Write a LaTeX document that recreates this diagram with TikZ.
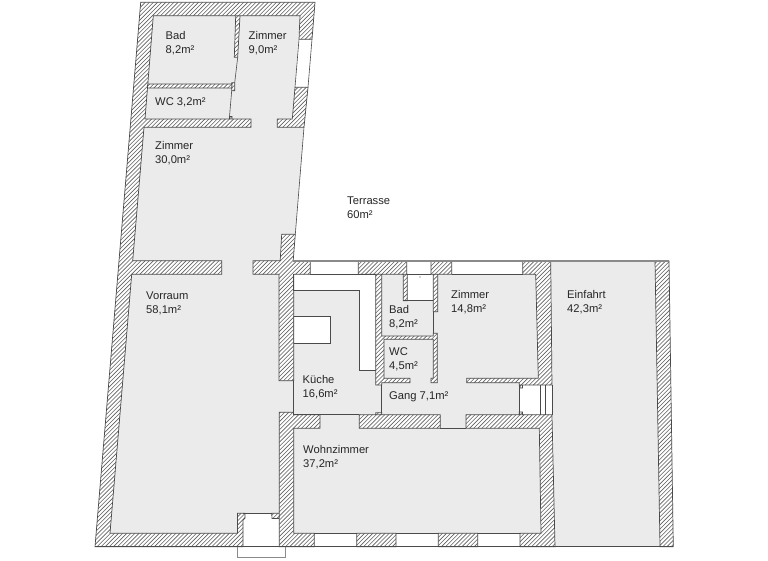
\documentclass[tikz,border=0pt]{standalone}
\usepackage{fontspec}
\setmainfont{Liberation Sans}
\definecolor{roomgray}{HTML}{EBEBEB}
\definecolor{wallline}{HTML}{4A4A4A}
\definecolor{hatchline}{HTML}{5F5F5F}
\definecolor{thickline}{HTML}{8A8A8A}
\tikzset{
  room/.style={fill=roomgray,draw=none},
  wall outline/.style={draw=wallline,line width=.7pt},
  hatch/.style={draw=hatchline,line width=.6pt},
  edge line/.style={draw=wallline,line width=.6pt},
  top line/.style={draw=thickline,line width=1.3pt},
  roomlabel/.style={anchor=west,inner sep=0pt,align=left,text=black!85,
    font=\fontsize{11.2}{14}\selectfont}
}
\newcommand\allwalls{
(140.7,2.3)--(315,2.3)--(312,39.3)--(299,39.3)--(300,15.7)--(153.3,15.7)--(145,119)--(251,119)--(251,127.3)--(144,127.3)--(132.7,260.7)--(221.7,260.7)--(221.7,274.3)--(131.7,274.3)--(110,533.3)--(237.5,533.3)--(237.5,513.3)--(245,513.3)--(245,518)--(243,520)--(243,546.7)--(95,546.7)--cycle
(295,87.3)--(308,87.3)--(304,127.3)--(277.3,127.3)--(277.3,119)--(292.3,119)--cycle
(281.7,234.3)--(295.3,234.3)--(293.2,260.7)--(310.3,260.7)--(310.3,274.3)--(293.7,274.3)--(293.7,380.7)--(279,380.7)--(279,274.3)--(253,274.3)--(253,260.7)--(280.2,260.7)--cycle
(279.3,412.3)--(293.5,412.3)--(293.5,414.7)--(320,414.7)--(320,428.3)--(293.7,428.3)--(293.7,533.3)--(314.3,533.3)--(314.3,546.7)--(279.3,546.7)--cycle
(271.7,513.3)--(279.3,513.3)--(279.3,518.5)--(272,518.5)--cycle
(359.3,414.7)--(440.3,414.7)--(440.3,428.3)--(359.3,428.3)--cycle
(522.7,261)--(550.7,261)--(552,385)--(519.3,385)--(519.3,382.7)--(466.7,382.7)--(466.7,378.3)--(538.3,378.3)--(535.7,274.3)--(522.7,274.3)--cycle
(466,414.7)--(552,414.7)--(555,546.7)--(520,546.7)--(520,533.3)--(541,533.3)--(539.3,428.3)--(466,428.3)--cycle
(356.7,533.3)--(396,533.3)--(396,546.7)--(356.7,546.7)--cycle
(438.3,533.3)--(477.7,533.3)--(477.7,546.7)--(438.3,546.7)--cycle
(358.3,261)--(406.7,261)--(406.7,274.3)--(358.3,274.3)--cycle
(431,261)--(451.7,261)--(451.7,274.3)--(431,274.3)--cycle
(655,261)--(669,261)--(673.3,546.7)--(660,546.7)--cycle
(375.7,274.3)--(381.7,274.3)--(381.7,336)--(433.3,336)--(433.3,333.3)--(437.3,333.3)--(437.3,382.7)--(431,382.7)--(431,378.3)--(433.3,378.3)--(433.3,339.3)--(384,339.3)--(384,378.3)--(410,378.3)--(410,382.7)--(381.7,382.7)--(381.7,385)--(375.7,385)--cycle
(403.3,274.3)--(407.3,274.3)--(407.3,300.7)--(403.3,300.7)--cycle
(433.3,274.3)--(437.7,274.3)--(437.7,311.7)--(433.3,311.7)--cycle
(235.7,15.7)--(240,15.7)--(237.7,57.3)--(234.3,57.3)--cycle
(147.7,84)--(232,84)--(232,88)--(147.3,88)--cycle
(231.7,82.7)--(234.7,82.7)--(234.7,90.7)--(231.7,90.7)--cycle
(229.5,116.5)--(232,116.5)--(232,119)--(229.5,119)--cycle
(520,385)--(522.5,385)--(522.5,388)--(520,388)--cycle
(519.3,412)--(522.5,412)--(522.5,414.7)--(519.3,414.7)--cycle
(375.7,412.7)--(381.7,412.7)--(381.7,414.7)--(375.7,414.7)--cycle
}
\begin{document}
\begin{tikzpicture}[x=1pt,y=-1pt]
\useasboundingbox (0,0) rectangle (768,560);
\fill[white] (0,0) rectangle (768,560);
% rooms
\path[room] (153.3,15.7)--(300,15.7)--(292.3,119)--(145,119)--cycle;
\path[room] (144,127.3)--(251,127.3)--(251,119)--(277.3,119)--(277.3,127.3)--(304,127.3)--(295.3,234.3)--(281.7,234.3)--(279,274.3)--(279.3,513.3)--(237.5,513.3)--(237.5,533.3)--(110,533.3)--(131.7,274.3)--(132.7,260.7)--cycle;
\path[room] (279,380)--(293.7,380)--(293.7,414)--(279,414)--cycle;
\path[room] (293.7,290.7)--(359.3,290.7)--(359.3,370)--(375.7,370)--(375.7,385)--(381.7,385)--(381.7,414.7)--(293.7,414.7)--cycle;
\path[room] (293.7,428.3)--(320,428.3)--(320,414.7)--(359.3,414.7)--(359.3,428.3)--(440.3,428.3)--(440.3,414.7)--(466,414.7)--(466,428.3)--(539.3,428.3)--(541,533.3)--(293.7,533.3)--cycle;
\path[room] (381.7,378.3) rectangle (519.3,414.7);
\path[room] (381.7,274.3)--(535.7,274.3)--(538.3,378.3)--(381.7,378.3)--cycle;
\path[room] (550.7,261)--(655,261)--(660,546.7)--(555,546.7)--cycle;
% white inserts
\draw[edge line,fill=white] (293.7,316.7) rectangle (330.3,343.3);
\fill[white] (407.3,274.3) rectangle (433.3,300.7);
% walls: white ground, hatching clipped to the wall shapes, outline
\fill[white] \allwalls;
\begin{scope}
\clip \allwalls;
\foreach \c in {0,4.1,...,1400} {\draw[hatch] (\c,0)--(\c-600,600);}
\end{scope}
\draw[wall outline] \allwalls;
% lines
\draw[edge line] (299,39.3)--(295,87.3) (312,39.3)--(308,87.3);
\draw[edge line] (237.7,57.3)--(234.7,82.7) (231.7,90.7)--(229.5,116.5);
\draw[edge line] (304,127.3)--(295.3,234.3);
\draw[edge line] (293.7,290.7)--(359.3,290.7)--(359.3,370)--(375.7,370);
\draw[edge line] (293.7,380.7)--(293.7,414.7) (293.7,414.7)--(359.3,414.7);
\draw[edge line] (293.7,274.3)--(293.7,290.7);
\draw[edge line] (310.3,274.3)--(375.7,274.3) (406.7,274.3)--(431,274.3) (451.7,274.3)--(522.7,274.3);
\draw[edge line] (403.3,300.7)--(433.3,300.7);
\draw[edge line] (433.3,311.7)--(433.3,333.3);
\draw[edge line] (381.7,385)--(381.7,412.7);
\draw[edge line] (440.3,428.3)--(466,428.3);
\draw[edge line] (519.3,385)--(519.3,414.7) (540.3,385)--(540.3,414.7) (545.7,385)--(545.7,414.7) (552,385)--(552,414.7);
\draw[edge line] (314.3,533.3)--(356.7,533.3) (396,533.3)--(438.3,533.3) (477.7,533.3)--(520,533.3);
\draw[edge line] (95,546.7)--(673.3,546.7);
\draw[edge line] (243,513.3)--(272,513.3);
\draw[edge line,draw=thickline] (237.3,546.7)--(237.3,557)--(285,557)--(285,546.7);
\draw[top line] (293,261)--(669,261);
\fill[wallline] (420,277) circle (.6);
% labels
\node[roomlabel] (bad1) at (165.5,43) {Bad\\8,2m²};
\node[roomlabel] (zi1) at (248.5,43) {Zimmer\\9,0m²};
\node[roomlabel] (wc1) at (155,102) {WC 3,2m²};
\node[roomlabel] (zi2) at (155,153) {Zimmer\\30,0m²};
\node[roomlabel] (terr) at (347,208) {Terrasse\\60m²};
\node[roomlabel] (vor) at (146,303) {Vorraum\\58,1m²};
\node[roomlabel] (bad2) at (389,317) {Bad\\8,2m²};
\node[roomlabel] (zi3) at (451,302) {Zimmer\\14,8m²};
\node[roomlabel] (wc2) at (389,359) {WC\\4,5m²};
\node[roomlabel] (kue) at (302.5,387) {Küche\\16,6m²};
\node[roomlabel] (gang) at (389,397) {Gang 7,1m²};
\node[roomlabel] (einf) at (567,302) {Einfahrt\\42,3m²};
\node[roomlabel] (wohn) at (303,457) {Wohnzimmer\\37,2m²};
\end{tikzpicture}
\end{document}
